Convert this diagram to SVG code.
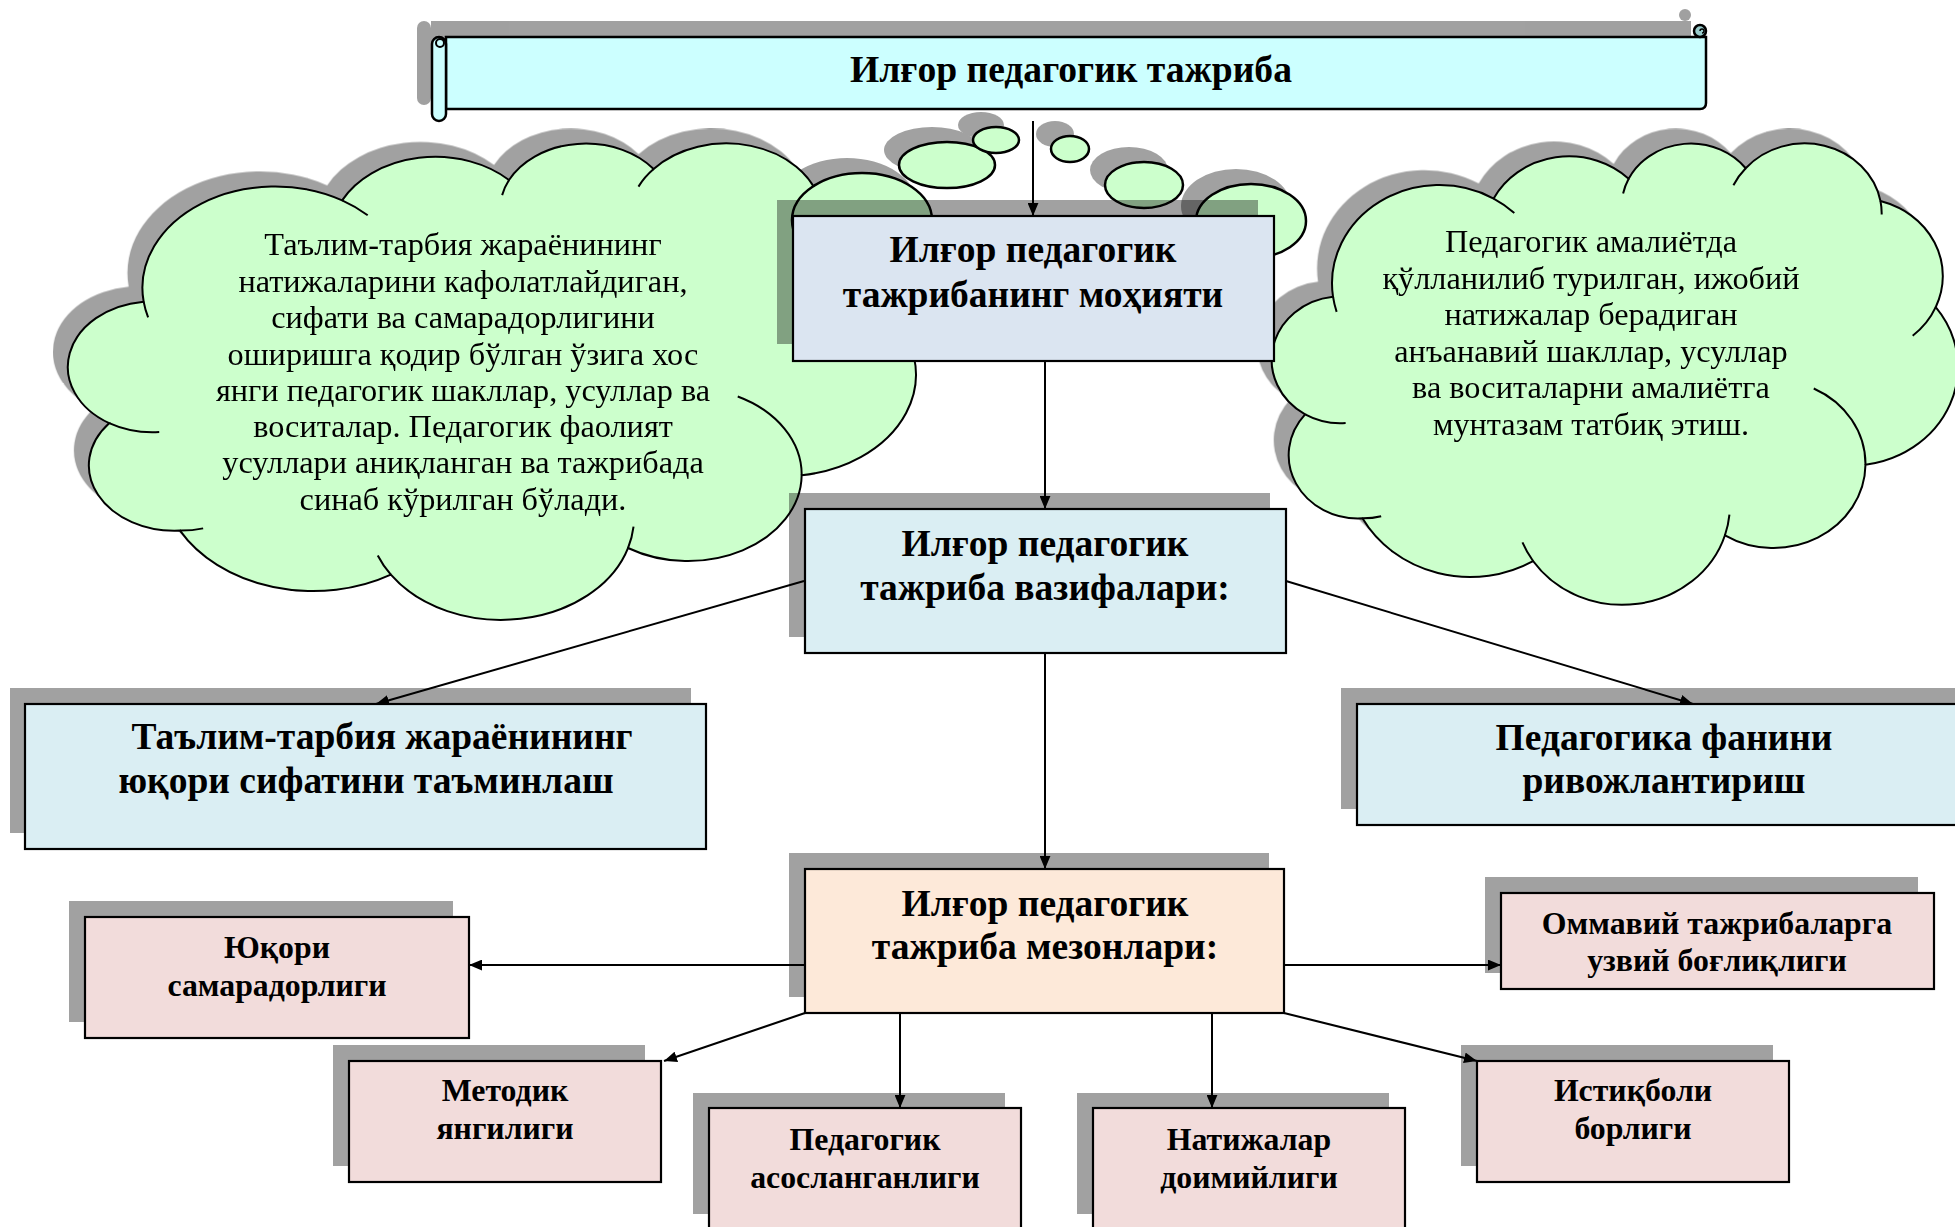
<svg xmlns="http://www.w3.org/2000/svg" xmlns:xlink="http://www.w3.org/1999/xlink" width="1955" height="1227" viewBox="0 0 1955 1227">
<style>
.cloud{fill:#ccffcc;stroke:#000;stroke-width:2}
.inner{fill:none;stroke:#000;stroke-width:2}
.bub{fill:#ccffcc;stroke:#000;stroke-width:2.5}
.sh{fill:#000;opacity:.37}
.box{stroke:#000;stroke-width:2.2}
.b1{fill:#dbe5f1}.b2{fill:#daeef3}.b3{fill:#fde9d9}.b4{fill:#f2dcdb}
text{font-family:"Liberation Serif","DejaVu Serif",serif;fill:#000;text-anchor:middle}
.tc{font-size:32.3px}
.tb{font-size:37.5px;font-weight:bold}
.ts{font-size:31.8px;font-weight:bold}
.tt{font-size:37.6px;font-weight:bold}
.ln{stroke:#000;stroke-width:2;fill:none}
</style>
<defs>
<path id="cl" vector-effect="non-scaling-stroke" d="M3900 14370A6753 9190 0 0 1 14000 5192A5333 7267 0 0 1 22490 3350A4365 5945 0 0 1 29850 2360A4857 6595 0 0 1 38324 5426A5333 7273 0 0 1 41798 15354A6775 9220 0 0 1 37382 30093A5785 7867 0 0 1 28545 36680A6752 9215 0 0 1 16478 39090A7720 10543 0 0 1 5750 35100A4360 5918 0 0 1 2145 25370A4345 5945 0 0 1 3900 14370Z"/>
<path id="ci" vector-effect="non-scaling-stroke" d="M4693 26177A4345 5945 0 0 1 2145 25370M6928 34899A4360 5918 0 0 1 5750 35100M16478 39090A6752 9215 0 0 1 15812 37354M28827 34751A6752 9215 0 0 1 28545 36680M34129 22954A5785 7867 0 0 1 37382 30093M41798 15354A5333 7273 0 0 1 40350 18030M38324 5426A4857 6595 0 0 1 38400 6689M29078 3952A4857 6595 0 0 1 29850 2360M22141 4720A4365 5945 0 0 1 22490 3350M14000 5192A6753 9190 0 0 1 15300 6541M4127 15789A6753 9190 0 0 1 3900 14370"/>
<marker id="ar" viewBox="0 0 12 10" refX="12" refY="5" markerWidth="13" markerHeight="11" markerUnits="userSpaceOnUse" orient="auto"><path d="M0 0L12 5L0 10Z" fill="#000"/></marker>
</defs>

<g id="banner">
<g class="sh" transform="translate(-15,-16)">
<rect x="446" y="37" width="1260" height="72"/>
<rect x="432" y="37" width="14" height="84" rx="7"/>
<circle cx="1700" cy="31" r="6"/>
</g>
<path d="M446 37H1706V103Q1706 109 1700 109H446Z" fill="#ccffff" stroke="#000" stroke-width="2.5"/>
<rect x="432" y="37" width="14" height="84" rx="7" fill="#ccffff" stroke="#000" stroke-width="2.5"/>
<circle cx="440" cy="43" r="4" fill="#ccffff" stroke="#000" stroke-width="2"/>
<circle cx="1700" cy="31" r="6" fill="#99cccc" stroke="#000" stroke-width="2.5"/>
<path d="M1700 31a2 2 0 1 1 2 2" fill="none" stroke="#000" stroke-width="1.5"/>
<text class="tt" x="1071" y="82">Илғор педагогик тажриба</text>
</g>

<g id="cloud-left">
<g class="sh" transform="translate(-15,-15)">
<use xlink:href="#cl" transform="translate(67,143) scale(0.019653,0.011042)"/>
<ellipse cx="862" cy="220" rx="70" ry="47"/>
<ellipse cx="947" cy="165" rx="48" ry="23"/>
<ellipse cx="996" cy="140" rx="23" ry="13"/>
</g>
<use xlink:href="#cl" class="cloud" transform="translate(67,143) scale(0.019653,0.011042)"/>
<use xlink:href="#ci" class="inner" transform="translate(67,143) scale(0.019653,0.011042)"/>
<ellipse class="bub" cx="862" cy="220" rx="70" ry="47"/>
<ellipse class="bub" cx="947" cy="165" rx="48" ry="23"/>
<ellipse class="bub" cx="996" cy="140" rx="23" ry="13"/>
<text class="tc" x="463" y="255">Таълим-тарбия жараёнининг</text>
<text class="tc" x="463" y="292">натижаларини кафолатлайдиган,</text>
<text class="tc" x="463" y="328">сифати ва самарадорлигини</text>
<text class="tc" x="463" y="365">оширишга қодир бўлган ўзига хос</text>
<text class="tc" x="463" y="401">янги педагогик шакллар, усуллар ва</text>
<text class="tc" x="463" y="437">воситалар. Педагогик фаолият</text>
<text class="tc" x="463" y="473">усуллари аниқланган ва тажрибада</text>
<text class="tc" x="463" y="510">синаб кўрилган бўлади.</text>
</g>

<g id="cloud-right">
<g class="sh" transform="translate(-15,-15)">
<use xlink:href="#cl" transform="translate(1271,143) scale(0.015903,0.010694)"/>
<ellipse cx="1251" cy="221" rx="55" ry="37"/>
<ellipse cx="1144" cy="185" rx="39" ry="23"/>
<ellipse cx="1070" cy="149" rx="19" ry="13"/>
</g>
<use xlink:href="#cl" class="cloud" transform="translate(1271,143) scale(0.015903,0.010694)"/>
<use xlink:href="#ci" class="inner" transform="translate(1271,143) scale(0.015903,0.010694)"/>
<ellipse class="bub" cx="1251" cy="221" rx="55" ry="37"/>
<ellipse class="bub" cx="1144" cy="185" rx="39" ry="23"/>
<ellipse class="bub" cx="1070" cy="149" rx="19" ry="13"/>
<text class="tc" x="1591" y="252">Педагогик амалиётда</text>
<text class="tc" x="1591" y="289">қўлланилиб турилган, ижобий</text>
<text class="tc" x="1591" y="325">натижалар берадиган</text>
<text class="tc" x="1591" y="362">анъанавий шакллар, усуллар</text>
<text class="tc" x="1591" y="398">ва воситаларни амалиётга</text>
<text class="tc" x="1591" y="435">мунтазам татбиқ этиш.</text>
</g>

<g id="connectors">
<line class="ln" x1="1033" y1="121" x2="1033" y2="216" marker-end="url(#ar)"/>
<line class="ln" x1="1045" y1="361" x2="1045" y2="509" marker-end="url(#ar)"/>
<line class="ln" x1="1045" y1="653" x2="1045" y2="869" marker-end="url(#ar)"/>
<line class="ln" x1="804" y1="581" x2="376" y2="704" marker-end="url(#ar)"/>
<line class="ln" x1="1286" y1="581" x2="1693" y2="704" marker-end="url(#ar)"/>
<line class="ln" x1="804" y1="965" x2="469" y2="965" stroke-width="2.5" marker-end="url(#ar)"/>
<line class="ln" x1="1284" y1="965" x2="1501" y2="965" stroke-width="2.5" marker-end="url(#ar)"/>
<line class="ln" x1="805" y1="1013" x2="664" y2="1061" marker-end="url(#ar)"/>
<line class="ln" x1="900" y1="1013" x2="900" y2="1108" stroke-width="1.5" marker-end="url(#ar)"/>
<line class="ln" x1="1212" y1="1013" x2="1212" y2="1108" stroke-width="1.5" marker-end="url(#ar)"/>
<line class="ln" x1="1284" y1="1013" x2="1477" y2="1061" marker-end="url(#ar)"/>
</g>

<g id="node-mohiyati">
<rect class="sh" x="777" y="200" width="481" height="144"/>
<rect class="box b1" x="793" y="216" width="481" height="145"/>
<text class="tb" x="1033" y="262">Илғор педагогик</text>
<text class="tb" x="1033" y="307">тажрибанинг моҳияти</text>
</g>

<g id="node-vazifalari">
<rect class="sh" x="789" y="493" width="481" height="144"/>
<rect class="box b2" x="805" y="509" width="481" height="144"/>
<text class="tb" x="1045" y="556">Илғор педагогик</text>
<text class="tb" x="1045" y="600">тажриба вазифалари:</text>
</g>

<g id="node-talim">
<rect class="sh" x="10" y="688" width="681" height="145"/>
<rect class="box b2" x="25" y="704" width="681" height="145"/>
<text class="tb" x="382" y="749">Таълим-тарбия жараёнининг</text>
<text class="tb" x="366" y="793">юқори сифатини таъминлаш</text>
</g>

<g id="node-pedagogika">
<rect class="sh" x="1341" y="688" width="630" height="121"/>
<rect class="box b2" x="1357" y="704" width="620" height="121"/>
<text class="tb" x="1664" y="750">Педагогика фанини</text>
<text class="tb" x="1664" y="793">ривожлантириш</text>
</g>

<g id="node-mezonlari">
<rect class="sh" x="789" y="853" width="480" height="144"/>
<rect class="box b3" x="805" y="869" width="479" height="144"/>
<text class="tb" x="1045" y="916">Илғор педагогик</text>
<text class="tb" x="1045" y="959">тажриба мезонлари:</text>
</g>

<g id="node-yuqori">
<rect class="sh" x="69" y="901" width="384" height="121"/>
<rect class="box b4" x="85" y="917" width="384" height="121"/>
<text class="ts" x="277" y="958">Юқори</text>
<text class="ts" x="277" y="996">самарадорлиги</text>
</g>

<g id="node-ommaviy">
<rect class="sh" x="1485" y="877" width="433" height="96"/>
<rect class="box b4" x="1501" y="893" width="433" height="96"/>
<text class="ts" x="1717" y="934">Оммавий тажрибаларга</text>
<text class="ts" x="1717" y="971">узвий боғлиқлиги</text>
</g>

<g id="node-metodik">
<rect class="sh" x="333" y="1045" width="312" height="121"/>
<rect class="box b4" x="349" y="1061" width="312" height="121"/>
<text class="ts" x="505" y="1101">Методик</text>
<text class="ts" x="505" y="1139">янгилиги</text>
</g>

<g id="node-asoslanganligi">
<rect class="sh" x="693" y="1093" width="312" height="121"/>
<rect class="box b4" x="709" y="1108" width="312" height="122"/>
<text class="ts" x="865" y="1150">Педагогик</text>
<text class="ts" x="865" y="1188">асосланганлиги</text>
</g>

<g id="node-natijalar">
<rect class="sh" x="1077" y="1093" width="312" height="121"/>
<rect class="box b4" x="1093" y="1108" width="312" height="122"/>
<text class="ts" x="1249" y="1150">Натижалар</text>
<text class="ts" x="1249" y="1188">доимийлиги</text>
</g>

<g id="node-istiqboli">
<rect class="sh" x="1461" y="1045" width="312" height="121"/>
<rect class="box b4" x="1477" y="1061" width="312" height="121"/>
<text class="ts" x="1633" y="1101">Истиқболи</text>
<text class="ts" x="1633" y="1139">борлиги</text>
</g>
</svg>
